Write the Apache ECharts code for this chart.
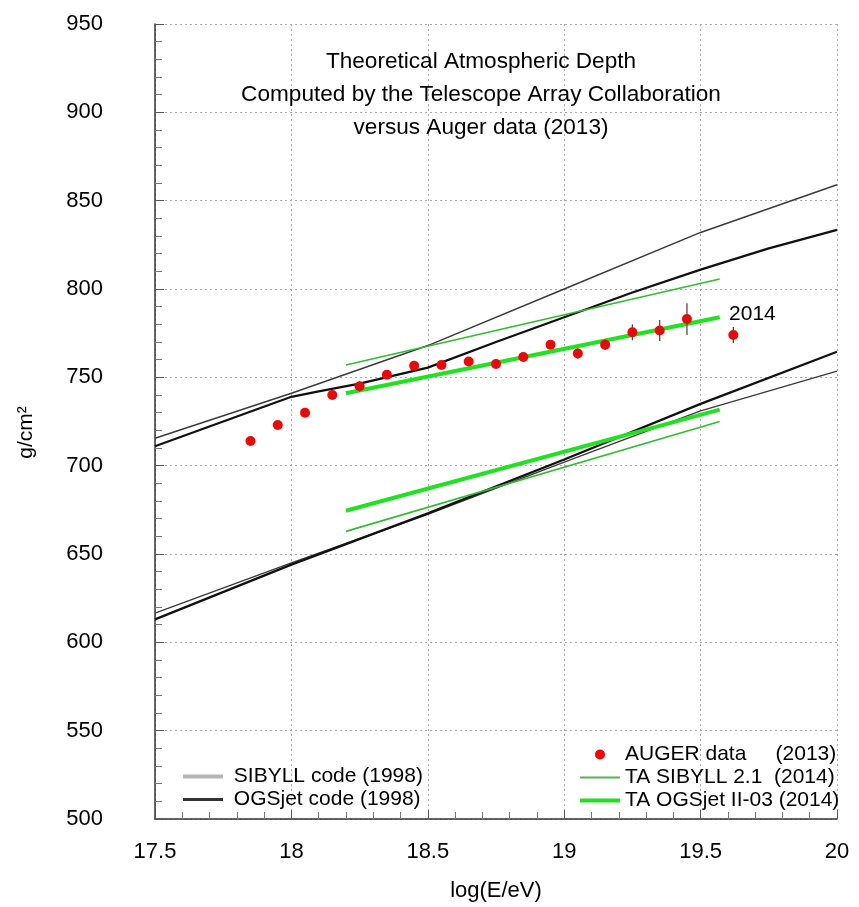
<!DOCTYPE html>
<html>
<head>
<meta charset="utf-8">
<script src="https://cdn.jsdelivr.net/npm/echarts@6/dist/echarts.min.js"></script>
<style>
  html, body { margin: 0; padding: 0; background: #fff; }
  #main { width: 859px; height: 907px; }
</style>
</head>
<body>
<div id="main"></div>
<script>
// 1998 curves
var sibyllUpperX = [17.5, 18.0, 18.5, 19.0, 19.5, 20.0];
var sibyllUpperY = [715.5, 741, 768, 800, 832, 859];
var sibyllLowerX = [17.5, 18.0, 18.5, 19.0, 19.5, 20.0];
var sibyllLowerY = [616.5, 645, 672.5, 702, 731, 753.5];
var ogsUpperX = [17.5, 18.0, 18.1, 18.25, 18.5, 18.75, 19.0, 19.25, 19.5, 19.75, 20.0];
var ogsUpperY = [711, 739, 742, 746.5, 755.5, 770, 784, 798, 811, 823, 833.5];
var ogsLowerX = [17.5, 18.0, 18.5, 19.0, 19.5, 20.0];
var ogsLowerY = [613, 644, 673, 703.5, 735, 764.5];

// TA 2014 lines
var taX = [18.2, 19.57];
var taSibyllUpper = [757, 805.7];
var taSibyllLower = [662.8, 725];
var taOgsUpper = [741, 784];
var taOgsLower = [674.5, 731.7];

// Auger 2013 points
var augerX = [17.85, 17.95, 18.05, 18.15, 18.25, 18.35, 18.45, 18.55, 18.65, 18.75, 18.85, 18.95, 19.05, 19.15, 19.25, 19.35, 19.45, 19.62];
var augerY = [714, 723, 730, 740, 745, 751.5, 756.5, 757, 759, 757.5, 761.5, 768.5, 763.5, 768.5, 775.5, 776.5, 783, 774];
var augerErr = [2, 2, 2, 2, 3, 2, 2, 2, 2, 2, 2, 2, 3, 3, 4.5, 6, 9, 4.5];

var label2014 = [19.69, 786];

var nameSib = "SIBYLL code (1998)";
var nameOgs = "OGSjet code (1998)";
var nameAuger = "AUGER data     (2013)";
var nameTaSib = "TA SIBYLL 2.1  (2014)";
var nameTaOgs = "TA OGSjet II-03 (2014)";

function pairs(xs, ys) {
  return xs.map(function (x, i) { return [x, ys[i]]; });
}

var font = "'Liberation Sans', Arial, sans-serif";
var chart = echarts.init(document.getElementById("main"));

function lineSeries(name, xs, ys, color, width, z) {
  return {
    name: name,
    type: "line",
    data: pairs(xs, ys),
    symbol: "none",
    lineStyle: { color: color, width: width },
    itemStyle: { color: color },
    z: z,
    silent: true
  };
}

var option = {
  animation: false,
  backgroundColor: "#fff",
  title: {
    text: "Theoretical Atmospheric Depth\nComputed by the Telescope Array Collaboration\nversus Auger data (2013)",
    left: 476,
    top: 40,
    textAlign: "center",
    textStyle: { fontFamily: font, fontSize: 22.6, fontWeight: "normal", color: "#000", lineHeight: 33 }
  },
  grid: { left: 155, right: 22, top: 24, bottom: 86 },
  legend: [
    {
      left: 178, top: 761, orient: "vertical",
      itemWidth: 40, itemHeight: 10, itemGap: 2,
      formatter: " {name}",
      textStyle: { fontFamily: font, fontSize: 21, color: "#000" },
      data: [
        { name: nameSib, icon: "path://M0,0H40V4H0Z", itemStyle: { color: "#b5b5b5" } },
        { name: nameOgs, icon: "path://M0,0H40V3H0Z", itemStyle: { color: "#333" } }
      ]
    },
    {
      left: 575, top: 739, orient: "vertical",
      itemWidth: 40, itemHeight: 10, itemGap: 2,
      textStyle: { fontFamily: font, fontSize: 21, color: "#000" },
      data: [
        { name: nameAuger, icon: "circle", itemStyle: { color: "#ff0000", opacity: 1 } },
        { name: nameTaSib, icon: "path://M0,0H40V2H0Z", itemStyle: { color: "#5cae5c" } },
        { name: nameTaOgs, icon: "path://M0,0H40V4H0Z", itemStyle: { color: "#22dd22" } }
      ]
    }
  ],
  xAxis: {
    type: "value",
    min: 17.5, max: 20, interval: 0.5,
    name: "log(E/eV)",
    nameLocation: "middle",
    nameGap: 61,
    nameTextStyle: { fontFamily: font, fontSize: 22, color: "#000" },
    axisLine: { onZero: false, lineStyle: { color: "#333", width: 1.5 } },
    axisTick: { inside: true, length: 9, lineStyle: { color: "#555" } },
    minorTick: { show: true, splitNumber: 5, length: 7, lineStyle: { color: "#777" } },
    axisLabel: { margin: 22, fontFamily: font, fontSize: 22, color: "#000" },
    splitLine: { show: true, lineStyle: { color: "#aaa", type: [2, 3], width: 1 } }
  },
  yAxis: {
    type: "value",
    min: 500, max: 950, interval: 50,
    name: "g/cm\u00b2",
    nameLocation: "middle",
    nameGap: 118,
    nameTextStyle: { fontFamily: font, fontSize: 21, color: "#000", padding: [0, 22, 0, 0] },
    axisLine: { onZero: false, lineStyle: { color: "#333", width: 1.5 } },
    axisTick: { inside: true, length: 9, lineStyle: { color: "#555" } },
    minorTick: { show: true, splitNumber: 5, length: 7, lineStyle: { color: "#777" } },
    axisLabel: { margin: 52, fontFamily: font, fontSize: 22, color: "#000" },
    splitLine: { show: true, lineStyle: { color: "#aaa", type: [2, 3], width: 1 } }
  },
  series: [
    lineSeries(nameSib, sibyllUpperX, sibyllUpperY, "#3a3a3a", 1.4, 2),
    lineSeries(nameSib, sibyllLowerX, sibyllLowerY, "#3a3a3a", 1.4, 2),
    lineSeries(nameOgs, ogsUpperX, ogsUpperY, "#111", 2.3, 3),
    lineSeries(nameOgs, ogsLowerX, ogsLowerY, "#111", 2.3, 3),
    lineSeries(nameTaSib, taX, taSibyllUpper, "#33bb33", 1.6, 4),
    lineSeries(nameTaSib, taX, taSibyllLower, "#33bb33", 1.6, 4),
    lineSeries(nameTaOgs, taX, taOgsUpper, "#22e022", 4, 4),
    lineSeries(nameTaOgs, taX, taOgsLower, "#22e022", 4, 4),
    {
      name: nameAuger,
      type: "scatter",
      data: pairs(augerX, augerY),
      symbol: "circle",
      symbolSize: 10,
      itemStyle: { color: "#ff0000", opacity: 1 },
      z: 5,
      silent: true
    },
    {
      name: "err",
      type: "custom",
      data: augerX.map(function (x, i) { return [x, augerY[i], augerErr[i]]; }),
      renderItem: function (params, api) {
        var x = api.value(0), y = api.value(1), e = api.value(2);
        var lo = api.coord([x, y - e]);
        var hi = api.coord([x, y + e]);
        return {
          type: "line",
          shape: { x1: lo[0], y1: lo[1], x2: hi[0], y2: hi[1] },
          style: { stroke: "#7a3a3a", lineWidth: 1.3 }
        };
      },
      z: 6,
      silent: true
    },
    {
      name: "note",
      type: "scatter",
      data: [label2014],
      symbolSize: 0,
      itemStyle: { opacity: 1 },
      label: {
        show: true, position: "inside", formatter: "2014",
        fontFamily: font, fontSize: 21, color: "#000", opacity: 1
      },
      z: 7,
      silent: true
    }
  ]
};

option && chart.setOption(option);
</script>
</body>
</html>
